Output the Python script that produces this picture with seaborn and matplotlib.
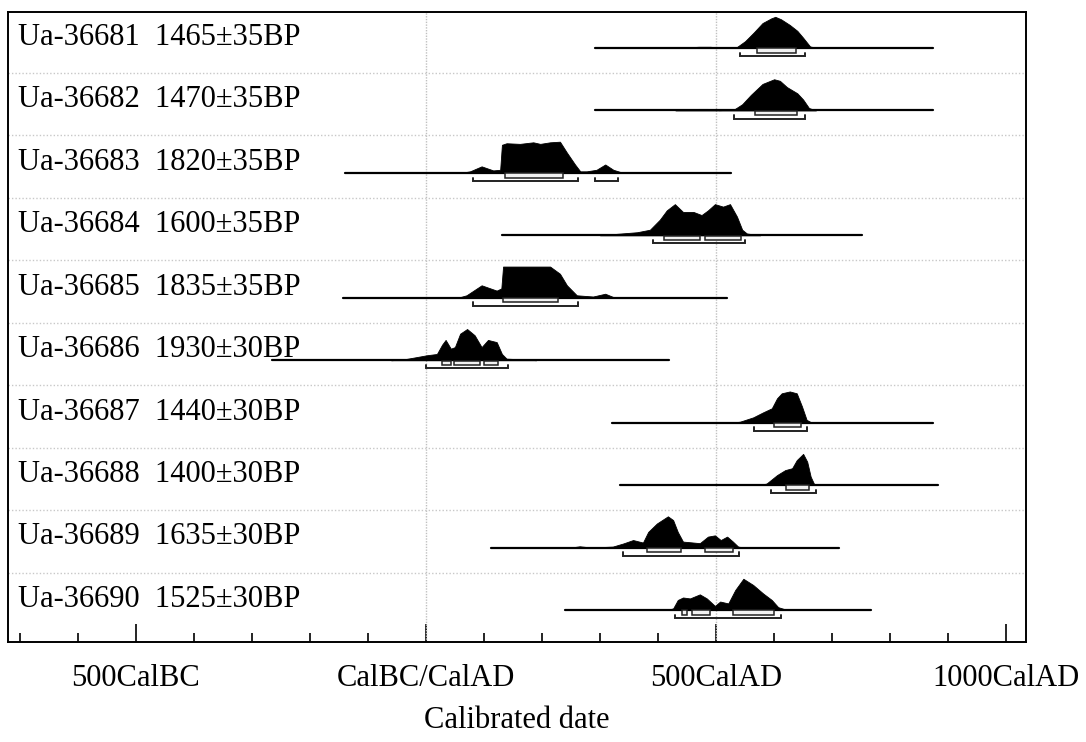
import numpy as np
import pandas as pd
import matplotlib
matplotlib.use("Agg")
import matplotlib.pyplot as plt
from matplotlib.patches import Rectangle
import seaborn as sns

# sample labels (top to bottom)
labels = ["Ua-36681  1465±35BP", "Ua-36682  1470±35BP", "Ua-36683  1820±35BP",
          "Ua-36684  1600±35BP", "Ua-36685  1835±35BP", "Ua-36686  1930±30BP",
          "Ua-36687  1440±30BP", "Ua-36688  1400±30BP", "Ua-36689  1635±30BP",
          "Ua-36690  1525±30BP"]

# extent of the calibration baseline (cal years, AD positive)
line_start = [291, 291, -140, 131, -143, -265, 321, 334, 113, 240]
line_end = [873, 873, 526, 752, 519, 419, 873, 882, 712, 767]

# calibrated probability curves (relative to peak)
pdf_years = [
    [430, 450, 470, 490, 510, 535, 550, 565, 580, 595, 602, 612, 627, 640, 650, 662, 675],
    [430, 450, 470, 485, 505, 530, 545, 560, 580, 600, 610, 622, 640, 650, 660, 672],
    [60, 76, 96, 116, 128, 131, 139, 162, 185, 197, 214, 231, 243, 257, 266, 277, 294, 309, 323, 340],
    [300, 317, 364, 386, 403, 415, 429, 443, 461, 475, 486, 498, 512, 524, 536, 545, 553, 576],
    [55, 70, 96, 122, 130, 133, 214, 231, 243, 260, 288, 309, 326],
    [-60, -40, 2, 19, 28, 34, 43, 50, 59, 71, 84, 96, 107, 122, 131, 139, 174, 190],
    [525, 541, 564, 581, 596, 605, 613, 627, 639, 648, 656, 665],
    [575, 587, 605, 619, 631, 639, 650, 657, 663, 669, 679],
    [250, 265, 285, 322, 340, 357, 374, 383, 398, 412, 417, 426, 434, 443, 455, 472, 486, 498, 508, 519, 529, 538, 548],
    [415, 426, 434, 443, 455, 472, 484, 498, 507, 521, 533, 547, 564, 581, 596, 607, 619, 635],
]
pdf_prob = [
    [0.0, 0.02, 0.04, 0.04, 0.01, 0.02, 0.22, 0.5, 0.8, 0.95, 1.0, 0.92, 0.74, 0.55, 0.33, 0.05, 0.0],
    [0.0, 0.03, 0.05, 0.05, 0.01, 0.02, 0.2, 0.5, 0.85, 1.0, 0.95, 0.75, 0.55, 0.35, 0.08, 0.0],
    [0.0, 0.05, 0.21, 0.08, 0.1, 0.9, 0.95, 0.93, 0.98, 0.93, 0.98, 1.0, 0.65, 0.27, 0.05, 0.05, 0.1, 0.27, 0.1, 0.0],
    [0.0, 0.03, 0.1, 0.18, 0.5, 0.8, 1.0, 0.75, 0.75, 0.65, 0.8, 1.0, 0.92, 1.0, 0.6, 0.18, 0.06, 0.0],
    [0.0, 0.08, 0.4, 0.23, 0.3, 1.0, 1.0, 0.77, 0.4, 0.08, 0.04, 0.13, 0.0],
    [0.0, 0.02, 0.16, 0.2, 0.5, 0.65, 0.37, 0.42, 0.85, 1.0, 0.8, 0.42, 0.65, 0.58, 0.2, 0.05, 0.02, 0.0],
    [0.0, 0.03, 0.17, 0.33, 0.46, 0.78, 0.94, 1.0, 0.94, 0.52, 0.09, 0.0],
    [0.0, 0.05, 0.32, 0.48, 0.54, 0.8, 1.0, 0.75, 0.27, 0.03, 0.0],
    [0.0, 0.04, 0.0, 0.03, 0.13, 0.24, 0.16, 0.5, 0.77, 0.94, 1.0, 0.88, 0.5, 0.19, 0.17, 0.14, 0.35, 0.39, 0.24, 0.35, 0.19, 0.03, 0.0],
    [0.0, 0.05, 0.32, 0.4, 0.37, 0.5, 0.37, 0.13, 0.27, 0.21, 0.64, 1.0, 0.8, 0.53, 0.32, 0.09, 0.02, 0.0],
]

# 68.2% and 95.4% ranges
range68 = [[(571, 638)], [(567, 639)], [(136, 236)], [(410, 472), (481, 543)], [(133, 228)],
           [(28, 43), (48, 93), (101, 124)], [(600, 647)], [(621, 660)],
           [(381, 440), (481, 529)], [(441, 450), (458, 490), (529, 600)]]
range95 = [[(541, 653)], [(531, 653)], [(81, 262), (291, 331)], [(391, 550)], [(81, 262)],
           [(1, 141)], [(565, 657)], [(595, 672)], [(340, 540)], [(429, 612)]]

major_ticks = [-500, 0, 500, 1000]
major_labels = ["500CalBC", "CalBC/CalAD", "500CalAD", "1000CalAD"]
minor_ticks = list(range(-700, 1001, 100))

sns.set_theme(style="white")
plt.rcParams["font.family"] = ["Liberation Serif", "DejaVu Serif"]
plt.rcParams["text.color"] = "black"
plt.rcParams["axes.labelcolor"] = "black"

fig = plt.figure(figsize=(10.86, 7.42), dpi=100)
ax = fig.add_axes([8 / 1086, 1 - 642 / 742, 1018 / 1086, 630 / 742])

peak_h = 0.5
for k, lab in enumerate(labels):
    base = -k
    # baseline
    sns.lineplot(x=[line_start[k], line_end[k]], y=[base, base], color="black",
                 lw=1.6, ax=ax, legend=False)
    # probability distribution
    px = np.array(pdf_years[k])
    py = base + peak_h * np.array(pdf_prob[k])
    ax.fill_between(px, base, py, color="black", lw=0.6, zorder=3)
    # 68.2% boxes
    for a, b in range68[k]:
        ax.add_patch(Rectangle((a, base - 0.075), b - a, 0.07, facecolor="#f2f2f2",
                               edgecolor="#222222", lw=1.1, zorder=4))
    # 95.4% brackets
    for a, b in range95[k]:
        yb = base - 0.13
        ax.plot([a, a, b, b], [yb + 0.055, yb, yb, yb + 0.055], color="#222222",
                lw=1.4, zorder=4, solid_joinstyle="miter")
    ax.text(-702, base + 0.05, lab, fontsize=22, va="baseline", ha="left", color="black")
    if k < len(labels) - 1:
        ax.axhline(base - 0.40, color="#c8c8c8", lw=1.0, ls=(0, (1, 1.5)), zorder=1)

for g in [0, 500]:
    ax.axvline(g, color="#c0c0c0", lw=1.0, ls=(0, (1, 1)), zorder=1)

ax.set_xlim(-720, 1034)
ax.set_ylim(-9.513, 0.577)
ax.set_xticks(major_ticks)
ax.set_xticklabels(major_labels, fontsize=22, color="black")
ax.set_xticks(minor_ticks, minor=True)
ax.set_yticks([])
ax.tick_params(axis="x", which="major", direction="in", length=13, width=1.2,
               bottom=True, pad=16, color="black", labelcolor="black")
ax.tick_params(axis="x", which="minor", direction="in", length=6.5, width=1.2,
               bottom=True, color="black")
ax.set_xlabel("Calibrated date", fontsize=22, labelpad=9, color="black")
for s in ax.spines.values():
    s.set_color("black")
    s.set_linewidth(1.4)

fig.savefig("out.png", dpi=100, facecolor="white")
